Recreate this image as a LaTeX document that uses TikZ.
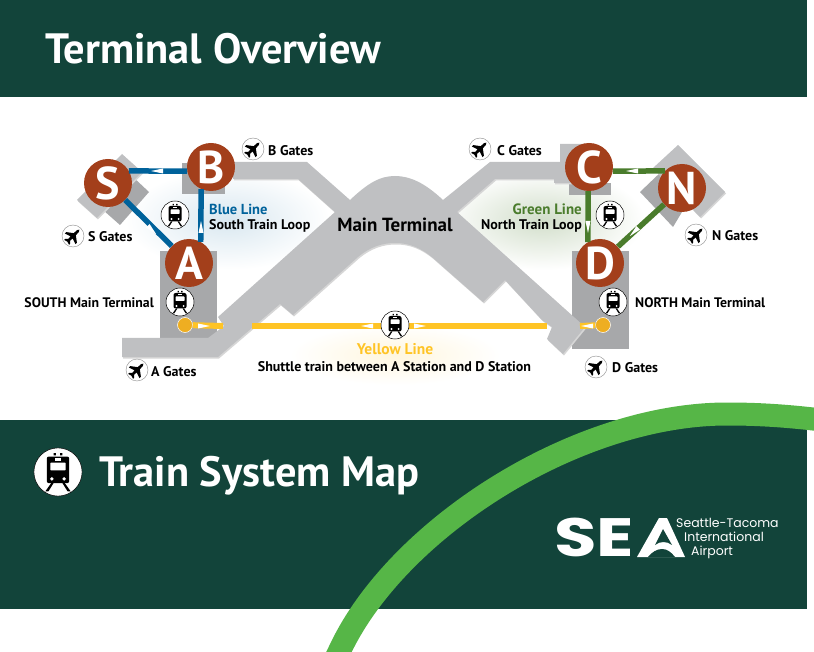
\documentclass[tikz,border=0pt]{standalone}
\usepackage{fontspec}
\setmainfont{PT Sans}
\newfontfamily\logofont{Poppins}
\definecolor{bannergreen}{HTML}{12443A}
\definecolor{limegreen}{HTML}{56B647}
\definecolor{hallgray}{HTML}{BFC0C2}
\definecolor{boxgray}{HTML}{A7A8AA}
\definecolor{stationbrown}{HTML}{A33F1B}
\definecolor{bluelinecol}{HTML}{00629B}
\definecolor{greenlinecol}{HTML}{4A7C2C}
\definecolor{yellowlinecol}{HTML}{FFC425}
\definecolor{yellowdot}{HTML}{EEAE22}
\tikzset{
  station/.style={circle,fill=stationbrown,text=white,minimum size=48pt,inner sep=0pt,font=\fontsize{46}{46}\selectfont\bfseries},
  lab/.style={font=\fontsize{14}{14}\selectfont\bfseries,inner sep=0pt},
  titlelab/.style={font=\fontsize{42.4}{42.4}\selectfont\bfseries,text=white,inner sep=0pt,anchor=west},
  logolab/.style={font=\fontsize{12.5}{12.5}\logofont,text=white,inner sep=0pt,anchor=west},
  hallfill/.style={fill=hallgray,preaction={fill=black!16,transform canvas={shift={(1pt,-1.5pt)}}}},
  blueline/.style={draw=bluelinecol,line width=5.5pt},
  greenline/.style={draw=greenlinecol,line width=5.5pt},
  yellowline/.style={draw=yellowlinecol,line width=6pt},
  yellowstop/.style={circle,fill=yellowdot,draw=white,line width=.5pt,minimum size=15pt,inner sep=0pt},
  pics/trainicon/.style={code={
    \fill[white] (0,0) circle (14);
    \draw[black,line width=.5pt] (0,0) circle (14);
    \fill[black,rounded corners=2pt] (-6.5,-9) rectangle (6.5,6.5);
    \fill[black] (-2.5,-11) rectangle (-1.2,-9.6) (1.2,-11) rectangle (2.5,-9.6);
    \fill[white,rounded corners=.7pt] (-4.5,-5.5) rectangle (4.5,-1);
    \fill[white] (-1.8,-8.2) rectangle (1.8,-6.6);
    \fill[white] (-3.6,4) circle (1.1) (3.6,4) circle (1.1);
    \fill[black] (-4,6.5) -- (-2.6,6.5) -- (-5.6,11.3) -- (-7.4,11.3) -- cycle;
    \fill[black] (4,6.5) -- (2.6,6.5) -- (5.6,11.3) -- (7.4,11.3) -- cycle;
  }},
  pics/planeicon/.style={code={
    \fill[white] (0,0) circle (11);
    \draw[black!45,line width=.4pt] (0,0) circle (11);
    \fill[black,rotate=45] (9,0) -- (7,-1.3) -- (2.5,-1.5) -- (-2,-7.5) -- (-4,-7.5) -- (-2,-1.5)
      -- (-5.5,-1.3) -- (-7.5,-3.5) -- (-9,-3.5) -- (-8,0) -- (-9,3.5) -- (-7.5,3.5) -- (-5.5,1.3)
      -- (-2,1.5) -- (-4,7.5) -- (-2,7.5) -- (2.5,1.5) -- (7,1.3) -- cycle;
  }}
}
\begin{document}
\begin{tikzpicture}[x=1pt,y=-1pt]
  \useasboundingbox (0,0) rectangle (814,652);
  % banners
  \fill[bannergreen] (0,0) rectangle (807,97);
  \fill[bannergreen] (0,420) rectangle (807,609);
  \draw[limegreen,line width=23pt] (331,668) -- (339,652) .. controls (395,530) and (575,414) .. (727,414)
    .. controls (760,414) and (790,416) .. (830,421);
  % glows
  \shade[inner color=bluelinecol!15,outer color=white] (125,170) rectangle (330,270);
  \shade[inner color=greenlinecol!25,outer color=white] (440,170) rectangle (645,270);
  \shade[inner color=yellowlinecol!15,outer color=white] (290,325) rectangle (500,385);
  % gray boxes
  \fill[boxgray] (160,251) rectangle (217,338);
  \fill[boxgray] (572,251) rectangle (629,349);
  \fill[boxgray] (182,163) rectangle (225,194);
  \fill[boxgray] (569,183) rectangle (611,195);
  \fill[boxgray] (133,177) -- (149,192) -- (120,225) -- (103,210) -- cycle;
  \fill[boxgray] (663,170) -- (688,202) -- (673,227) -- (640,192) -- cycle;
  \path[hallfill] (122,154) -- (142,172) -- (97,218) -- (77,200) -- cycle;
  \path[hallfill] (678,145) -- (725,192) -- (700,217) -- (653,168) -- cycle;
  % main hall
  \path[hallfill] (122,338) -- (208,338) -- (224,326) -- (218,317) -- (335,212) -- (298,179) -- (233,179) -- (233,162) -- (307,162)
    -- (350,200) .. controls (368,183) and (380,176) .. (395,176) .. controls (410,176) and (425,183) .. (443,200)
    -- (490,162) -- (560,162) -- (560,144) -- (595,144) -- (595,183) -- (554,183) -- (554,179) -- (495,179)
    -- (457,212) -- (585,327) -- (563,354) -- (547,339) -- (552,327) -- (542,320) -- (505,280) -- (483,302) -- (433,258)
    .. controls (420,247) and (408,243) .. (395,243) .. controls (382,243) and (370,247) .. (358,257)
    -- (293,315) -- (280,304) -- (218,357) -- (122,357) -- cycle;
  % stations
  \node[station] (stationS) at (108,183) {S};
  \node[station] (stationB) at (211,167) {B};
  \node[station] (stationA) at (189,263) {A};
  \node[station] (stationC) at (589,167) {C};
  \node[station] (stationN) at (682,188) {N};
  \node[station] (stationD) at (600,263) {D};
  \node[yellowstop] (stopA) at (185,325) {};
  \node[yellowstop] (stopD) at (603,325) {};
  \coordinate (stubA) at (223,326);
  \coordinate (stubD) at (580,326);
  \coordinate (shuttleL) at (252,326);
  \coordinate (shuttleR) at (547,326);
  % train lines
  \draw[blueline] (stationS.30) -- (stationB.190);
  \draw[blueline] (stationB.246) -- (stationA.61);
  \draw[blueline] (stationS) -- (stationA);
  \draw[greenline] (stationC.350) -- (stationN.135);
  \draw[greenline] (stationC.268) -- (stationD.120);
  \draw[greenline] (stationN) -- (stationD);
  \draw[yellowline] (stopA) -- (stubA);
  \draw[yellowline] (stopD) -- (stubD);
  \draw[yellowline] (shuttleL) -- (shuttleR);
  % direction marks
  \foreach \x/\y/\ang in {157/171/180,201/227/90,152/230/-45,632/171/180,588/227/-90,634/232/-135,367/326/180,420/326/0,204/326/0,587/326/180} {
    \fill[white,shift={(\x,\y)},rotate=\ang] (-6,-2.5) -- (6,0) -- (-6,2.5) -- cycle;
  }
  % icons
  \foreach \x/\y in {175/215,180/302,610/215,613/302,395/325} {
    \pic at (\x,\y) {trainicon};
  }
  \pic[scale=1.72] at (58,472) {trainicon};
  \foreach \x/\y/\n/\lx/\ly in {253/149/B/268/151,73/236/S/88/237,137/370/A/151/372,480/149/C/497/151,696/235/N/712/236,596/367/D/612/368} {
    \pic at (\x,\y) {planeicon};
    \node[lab,anchor=west] (gate\n) at (\lx,\ly) {\n\ Gates};
  }
  % labels
  \node[lab,font=\fontsize{19}{19}\selectfont\bfseries] (mainlab) at (395,225) {Main Terminal};
  \node[lab,anchor=west,text=bluelinecol,font=\fontsize{14.5}{14.5}\selectfont\bfseries] (bluelab) at (209,209) {Blue Line};
  \node[lab,anchor=west] (southlab) at (209,226) {South Train Loop};
  \node[lab,anchor=east,text=greenlinecol,font=\fontsize{15}{15}\selectfont\bfseries] (greenlab) at (582,209) {Green Line};
  \node[lab,anchor=east] (northlab) at (582,226) {North Train Loop};
  \node[lab,text=yellowlinecol,font=\fontsize{15.5}{15.5}\selectfont\bfseries] (yellowlab) at (395,349) {Yellow Line};
  \node[lab] (shuttlelab) at (394.5,367) {Shuttle train between A Station and D Station};
  \node[lab,anchor=east,font=\fontsize{13.8}{13.8}\selectfont\bfseries] (southmain) at (154,303) {SOUTH Main Terminal};
  \node[lab,anchor=west,font=\fontsize{13.8}{13.8}\selectfont\bfseries] (northmain) at (635,303) {NORTH Main Terminal};
  \node[titlelab] (titletop) at (45,49) {Terminal Overview};
  \node[titlelab] (titlebot) at (99,476) {Train System Map};
  % logo
  \node[inner sep=0pt,anchor=west,text=white,xscale=1.28,font=\fontsize{54}{54}\logofont\bfseries] (logoSE) at (554,537) {SE};
  \fill[white] (659,518) -- (667,518) -- (685,557) -- (637,557) -- cycle;
  \fill[bannergreen] (648,557) .. controls (652,552) and (657,549) .. (662,549) .. controls (667,549) and (671,552) .. (675,557) -- cycle;
  \fill[bannergreen] (663,529) -- (672,545) .. controls (667,541) and (660,541) .. (655,545) -- cycle;
  \node[logolab] (logo1) at (676,523) {Seattle-Tacoma};
  \node[logolab] (logo2) at (684,537) {International};
  \node[logolab] (logo3) at (691,552) {Airport};
\end{tikzpicture}
\end{document}
